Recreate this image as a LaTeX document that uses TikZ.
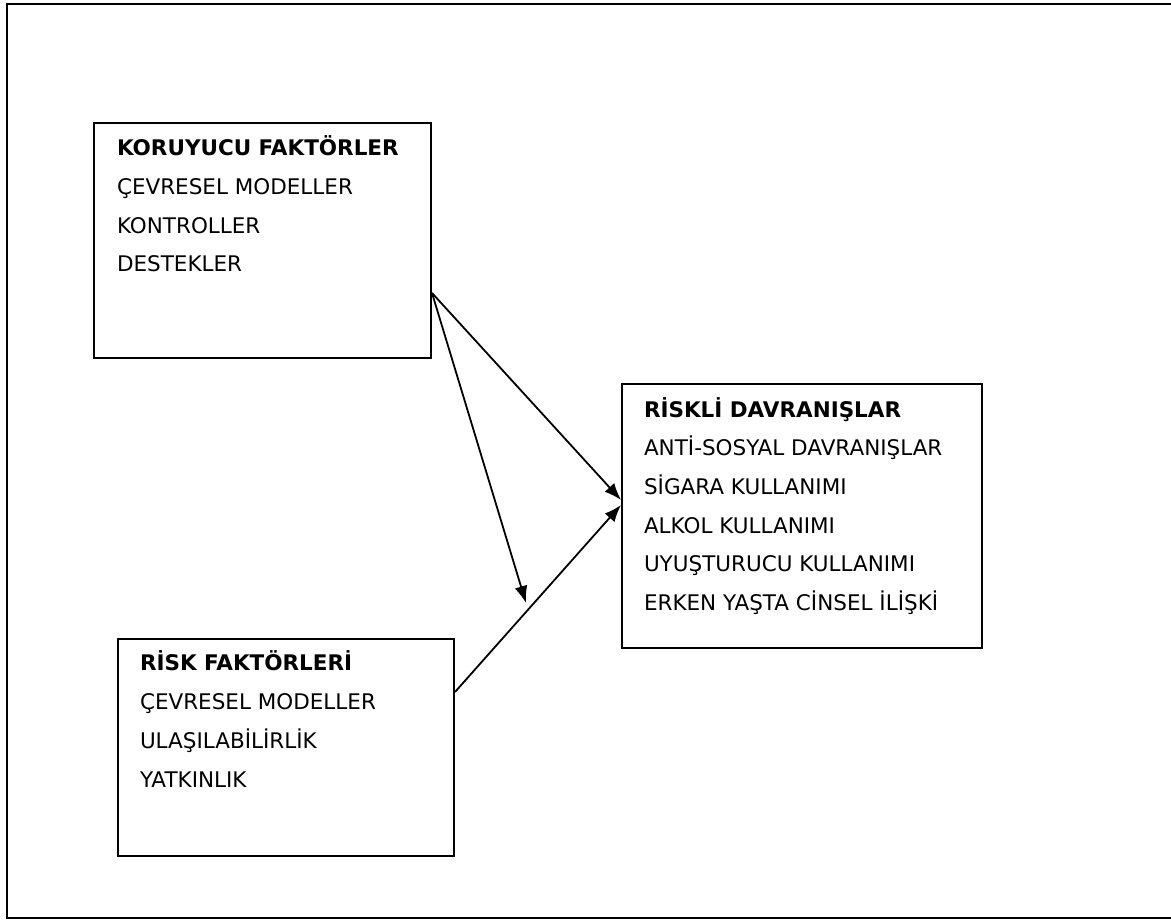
\documentclass[tikz,border=0pt]{standalone}
\usepackage{fontspec}
\setmainfont{DejaVu Sans}
\usetikzlibrary{arrows.meta}
\begin{document}
\begin{tikzpicture}[x=1pt,y=-1pt,line width=2pt]
\tikzset{kutu/.style={draw, rectangle, inner sep=0pt},
  yazi/.style={anchor=base west, inner sep=0pt, align=left, font={\fontsize{21.5}{38.7}\selectfont}},
  ok/.style={-{Latex[length=17pt,width=13pt]}, line width=1.8pt}}
\useasboundingbox (0,0) rectangle (1171,920);
\draw[line width=2pt] (1180,4.5) -- (6.5,4.5) -- (6.5,918) -- (1180,918);
\node[kutu, minimum width=337pt, minimum height=235pt] (kor) at (262.5,240.5){};
\node[kutu, minimum width=360pt, minimum height=264pt] (davr) at (802,516){};
\node[kutu, minimum width=336pt, minimum height=217pt] (risk) at (286,747.5){};
% son satirin taban cizgisi
\node[yazi] (kortxt) at (116,272){\textbf{KORUYUCU FAKTÖRLER}\\ÇEVRESEL MODELLER\\KONTROLLER\\DESTEKLER};
\node[yazi] (davrtxt) at (643,610.5){\textbf{RİSKLİ DAVRANIŞLAR}\\ANTİ-SOSYAL DAVRANIŞLAR\\SİGARA KULLANIMI\\ALKOL KULLANIMI\\UYUŞTURUCU KULLANIMI\\ERKEN YAŞTA CİNSEL İLİŞKİ};
\node[yazi] (risktxt) at (139,787){\textbf{RİSK FAKTÖRLERİ}\\ÇEVRESEL MODELLER\\ULAŞILABİLİRLİK\\YATKINLIK};
\coordinate (uc) at (526,603);
\draw[ok] ([yshift=-52.5pt]kor.east) -- ([yshift=16pt]davr.west);
\draw[ok] ([yshift=-52.5pt]kor.east) -- (uc);
\draw[ok] ([yshift=55.5pt]risk.east) -- ([yshift=11pt]davr.west);
\end{tikzpicture}
\end{document}
